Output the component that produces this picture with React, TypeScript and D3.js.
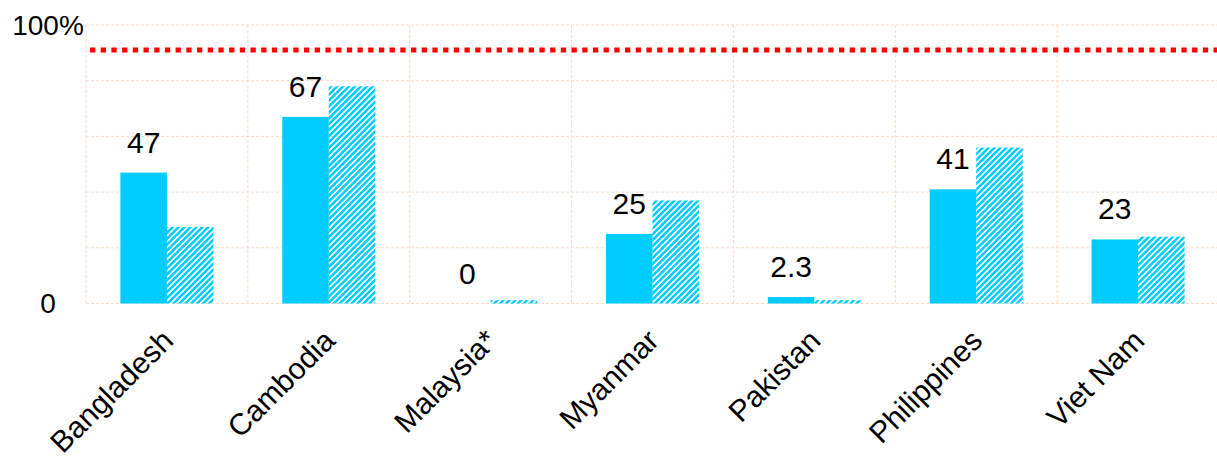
import React from "react";
import * as d3 from "d3";

const categories = ["Bangladesh", "Cambodia", "Malaysia*", "Myanmar", "Pakistan", "Philippines", "Viet Nam"];
const solidValues = [47, 67, 0, 25, 2.3, 41, 23];
const hatchedValues = [27.5, 78, 1.2, 37, 1.2, 56, 24];
const solidLabels = ["47", "67", "0", "25", "2.3", "41", "23"];
const yTicks = [0, 20, 40, 60, 80, 100];
const yTickLabels: Record<number, string> = { 0: "0", 100: "100%" };
const targetValue = 91;

const W = 1217;
const H = 462;
const margin = { left: 86, right: -2, top: 25, bottom: 158.5 };
const CYAN = "#00CCFF";
const GRID = "#F9DCCB";
const FONT = "'Liberation Sans', Arial, sans-serif";

export default function App() {
  const x = d3
    .scaleBand<string>()
    .domain(categories)
    .range([margin.left, W - margin.right])
    .paddingInner(0)
    .paddingOuter(0);
  const y = d3.scaleLinear().domain([0, 100]).range([H - margin.bottom, margin.top]);
  const bw = x.bandwidth();
  const barW = bw * 0.2875;

  const boundaries = categories.map((c) => x(c)!).concat([W - margin.right]);

  return (
    <svg width={W} height={H} style={{ position: "absolute", left: 0, top: 0, fontFamily: FONT }}>
      <defs>
        <pattern id="hatch" patternUnits="userSpaceOnUse" width={4.2} height={4.2} patternTransform="rotate(45)">
          <rect x={0} y={0} width={2.7} height={4.2} fill={CYAN} shapeRendering="crispEdges" />
        </pattern>
      </defs>
      <rect width={W} height={H} fill="#fff" />
      {/* grid */}
      {yTicks.map((t) => (
        <line key={"h" + t} x1={margin.left} x2={W} y1={y(t)} y2={y(t)} stroke={GRID} strokeWidth={1} strokeDasharray="3,2" />
      ))}
      {boundaries.map((b, i) => (
        <line key={"v" + i} x1={b} x2={b} y1={y(100)} y2={y(0)} stroke={GRID} strokeWidth={1} strokeDasharray="3,2" />
      ))}
      {/* bars */}
      {categories.map((c, i) => {
        const cx = x(c)! + bw / 2;
        return (
          <g key={c}>
            {solidValues[i] > 0 && (
              <rect x={cx - barW} y={y(solidValues[i])} width={barW} height={y(0) - y(solidValues[i])} fill={CYAN} />
            )}
            <rect x={cx} y={y(hatchedValues[i])} width={barW} height={y(0) - y(hatchedValues[i])} fill="url(#hatch)" />
            <text x={cx - barW / 2} y={y(solidValues[i]) - 20} textAnchor="middle" fontSize={30} fill="#000">
              {solidLabels[i]}
            </text>
            <text
              transform={`translate(${cx + 8},${y(0) + 39}) rotate(-45)`}
              textAnchor="end"
              fontSize={30}
              fill="#000"
            >
              {c}
            </text>
          </g>
        );
      })}
      {/* target line */}
      <line x1={90} x2={W} y1={y(targetValue)} y2={y(targetValue)} stroke="#FF0000" strokeWidth={5} strokeDasharray="5.3,5.4" />
      {/* y labels */}
      {yTicks
        .filter((t) => yTickLabels[t] !== undefined)
        .map((t) => (
          <text key={"yl" + t} x={48} y={y(t)} textAnchor="middle" dominantBaseline="central" fontSize={28} fill="#000">
            {yTickLabels[t]}
          </text>
        ))}
    </svg>
  );
}
